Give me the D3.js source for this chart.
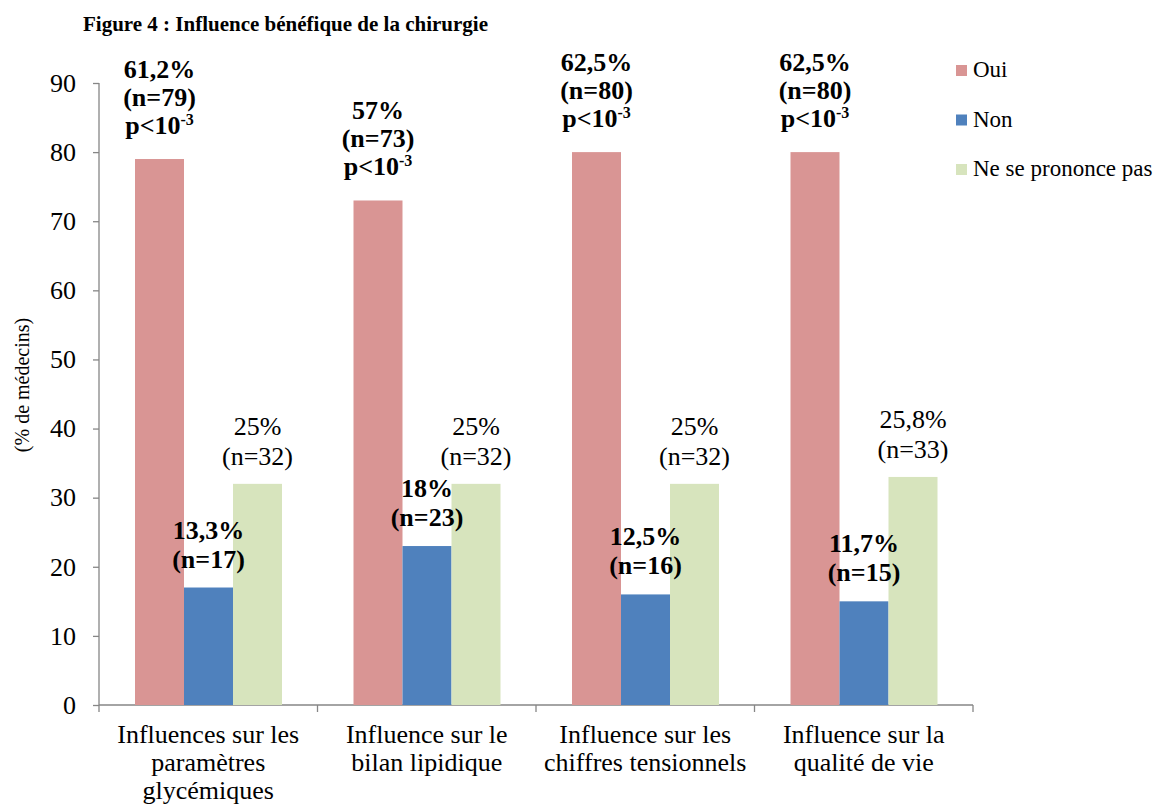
<!DOCTYPE html>
<meta charset="utf-8">
<style>
body { margin: 0; background: #fff; }
svg { font-family: "Liberation Serif", "Times New Roman", serif; }
.lbl.b { font-weight: bold; }
</style>
<script src="https://d3js.org/d3.v7.min.js"></script>
<body>
<svg width="1162" height="807"></svg>
</body>
<script>

// data
var categories = [
  ["Influences sur les", "paramètres", "glycémiques"],
  ["Influence sur le", "bilan lipidique"],
  ["Influence sur les", "chiffres tensionnels"],
  ["Influence sur la", "qualité de vie"]
];
var series = ["Oui", "Non", "Ne se prononce pas"];
var oui = [79, 73, 80, 80];
var non = [17, 23, 16, 15];
var nsp = [32, 32, 32, 33];
var ouiLabels = [["61,2%", "(n=79)", "p"], ["57%", "(n=73)", "p"], ["62,5%", "(n=80)", "p"], ["62,5%", "(n=80)", "p"]];
var nonLabels = [["13,3%", "(n=17)"], ["18%", "(n=23)"], ["12,5%", "(n=16)"], ["11,7%", "(n=15)"]];
var nspLabels = [["25%", "(n=32)"], ["25%", "(n=32)"], ["25%", "(n=32)"], ["25,8%", "(n=33)"]];
var yTicks = [0, 10, 20, 30, 40, 50, 60, 70, 80, 90];

var colors = ["#D99594", "#4F81BD", "#D7E4BD"];

var svg = d3.select("svg");
var mLeft = 99, mRight = 973, mTop = 83, mBottom = 705;

var x = d3.scaleBand().domain(d3.range(categories.length)).range([mLeft, mRight]);
var inner = d3.scaleBand().domain([0, 1, 2]).range([36, 36 + 147]);
var y = d3.scaleLinear().domain([0, 90]).range([mBottom, mTop]);

// title
svg.append("text")
  .attr("x", 83).attr("y", 31)
  .style("font-size", "21px").style("font-weight", "bold")
  .text("Figure 4 : Influence bénéfique de la chirurgie");

// y axis
var yAxis = svg.append("g")
  .attr("transform", "translate(" + mLeft + ",0)")
  .call(d3.axisLeft(y).tickValues(yTicks).tickSize(6).tickPadding(17));
yAxis.selectAll("path, line").attr("stroke", "#868686").attr("stroke-width", 1.3);
yAxis.select(".domain").attr("d", "M0," + mTop + "V" + mBottom);
yAxis.attr("font-family", null).attr("font-size", null);
yAxis.selectAll(".tick text")
  .style("font-size", "26px")
  .attr("fill", "#000");

// x axis
var xg = svg.append("g").attr("transform", "translate(0," + mBottom + ")");
xg.append("line").attr("x1", mLeft).attr("x2", mRight).attr("stroke", "#868686").attr("stroke-width", 1.3);
xg.selectAll(".xt").data(d3.range(categories.length + 1)).enter().append("line")
  .attr("x1", function(i) { return mLeft + i * x.bandwidth(); })
  .attr("x2", function(i) { return mLeft + i * x.bandwidth(); })
  .attr("y1", 0).attr("y2", 7)
  .attr("stroke", "#868686").attr("stroke-width", 1.3);

categories.forEach(function(lines, i) {
  var t = svg.append("text").attr("text-anchor", "middle").style("font-size", "26px");
  lines.forEach(function(l, j) {
    t.append("tspan").attr("x", x(i) + x.bandwidth() / 2).attr("y", 743 + j * 28).text(l);
  });
});

// y label
svg.append("text")
  .attr("transform", "translate(29,385) rotate(-90)")
  .attr("text-anchor", "middle")
  .style("font-size", "20px")
  .text("(% de médecins)");

// bars
var allVals = [oui, non, nsp];
allVals.forEach(function(vals, s) {
  svg.selectAll(".bar" + s).data(vals).enter().append("rect")
    .attr("x", function(d, i) { return x(i) + inner(s); })
    .attr("width", inner.bandwidth())
    .attr("y", function(d) { return y(d); })
    .attr("height", function(d) { return y(0) - y(d); })
    .attr("fill", colors[s]);
});

// labels
function drawLabel(lines, cx, lastBase, bold, lh) {
  var t = svg.append("text")
    .attr("class", "lbl" + (bold ? " b" : ""))
    .attr("text-anchor", "middle")
    .style("font-size", "26px");
  var n = lines.length;
  lines.forEach(function(l, j) {
    var ty = lastBase - (n - 1 - j) * lh;
    if (l === "p") {
      t.append("tspan").attr("x", cx).attr("y", ty).text("p<10");
      t.append("tspan").attr("dy", -9).style("font-size", "16px").text("-3");
    } else {
      t.append("tspan").attr("x", cx).attr("y", ty).text(l);
    }
  });
}

oui.forEach(function(v, i) {
  drawLabel(ouiLabels[i], x(i) + inner(0) + inner.bandwidth() / 2, y(v) - 25, true, 28);
});
non.forEach(function(v, i) {
  drawLabel(nonLabels[i], x(i) + inner(1) + inner.bandwidth() / 2, y(v) - 20, true, 29);
});
nsp.forEach(function(v, i) {
  drawLabel(nspLabels[i], x(i) + inner(2) + inner.bandwidth() / 2, y(v) - 19, false, 30);
});

// legend
series.forEach(function(s, i) {
  var ly = 70 + i * 49.5;
  svg.append("rect").attr("x", 956).attr("y", ly - 5).attr("width", 11).attr("height", 11).attr("fill", colors[i]);
  svg.append("text").attr("x", 973).attr("y", ly + 7).style("font-size", "23px").text(s);
});

</script>
